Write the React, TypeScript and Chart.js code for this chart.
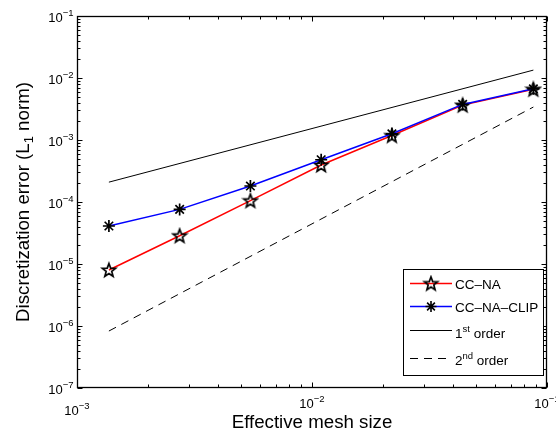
import { useEffect, useRef } from "react";
import { Chart, registerables } from "chart.js";

Chart.register(...registerables);

// ---- data ----
const meshSize = [0.001367, 0.002734, 0.005469, 0.01094, 0.02188, 0.04375, 0.0875];
const errCCNA = [8.0e-6, 2.86e-5, 1.05e-4, 3.95e-4, 1.18e-3, 3.65e-3, 6.6e-3];
const errCCNACLIP = [4.1e-5, 7.6e-5, 1.81e-4, 4.8e-4, 1.26e-3, 3.75e-3, 6.7e-3];
const firstOrderX = [0.001367, 0.0875];
const firstOrderY = [2.09e-4, 1.34e-2];
const secondOrderX = [0.001367, 0.0875];
const secondOrderY = [8.3e-7, 3.4e-3];

const xMajorExps = [-3, -2, -1];
const yMajorExps = [-7, -6, -5, -4, -3, -2, -1];

const seriesNames = ["CC\u2013NA", "CC\u2013NA\u2013CLIP"];

const FONT = '"Liberation Sans", Arial, Helvetica, sans-serif';

let pentagramImg: HTMLCanvasElement | null = null;

function makePentagram(size: number, r: number, color: string, lw: number) {
  const c = document.createElement("canvas");
  c.width = size;
  c.height = size;
  const ctx = c.getContext("2d")!;
  const cx = size / 2;
  const cy = size / 2 + 0.5;
  ctx.beginPath();
  for (let i = 0; i < 10; i++) {
    const a = -Math.PI / 2 + (i * Math.PI) / 5;
    const rad = i % 2 === 0 ? r : r * 0.42;
    const px = cx + rad * Math.cos(a);
    const py = cy + rad * Math.sin(a);
    if (i === 0) ctx.moveTo(px, py);
    else ctx.lineTo(px, py);
  }
  ctx.closePath();
  ctx.strokeStyle = color;
  ctx.lineWidth = lw;
  ctx.lineJoin = "miter";
  ctx.stroke();
  return c;
}

function drawAsterisk(ctx: CanvasRenderingContext2D, x: number, y: number, r: number) {
  ctx.beginPath();
  ctx.moveTo(x - r, y);
  ctx.lineTo(x + r, y);
  ctx.moveTo(x, y - r);
  ctx.lineTo(x, y + r);
  const d = r * Math.SQRT1_2;
  ctx.moveTo(x - d, y - d);
  ctx.lineTo(x + d, y + d);
  ctx.moveTo(x - d, y + d);
  ctx.lineTo(x + d, y - d);
  ctx.stroke();
}

function drawPow(
  ctx: CanvasRenderingContext2D,
  exp: number,
  x: number,
  baseY: number,
  align: "center" | "right"
) {
  const base = "10";
  const sup = (exp < 0 ? "\u2212" : "") + Math.abs(exp);
  ctx.font = `13px ${FONT}`;
  const w1 = ctx.measureText(base).width;
  ctx.font = `9.5px ${FONT}`;
  const w2 = ctx.measureText(sup).width;
  const total = w1 + w2;
  const start = align === "center" ? x - total / 2 : x - total;
  ctx.textAlign = "left";
  ctx.textBaseline = "alphabetic";
  ctx.font = `13px ${FONT}`;
  ctx.fillText(base, start, baseY);
  ctx.font = `9.5px ${FONT}`;
  ctx.fillText(sup, start + w1, baseY - 6.3);
}

const decorPlugin = {
  id: "decor",
  afterDraw(chart: any) {
    const ctx: CanvasRenderingContext2D = chart.ctx;
    const { left, right, top, bottom } = chart.chartArea;
    const xs = chart.scales.x;
    const ys = chart.scales.y;
    ctx.save();
    ctx.strokeStyle = "#000";
    ctx.fillStyle = "#000";
    ctx.lineWidth = 1;
    ctx.setLineDash([]);

    const L = Math.round(left) + 0.5;
    const R = Math.round(right) - 0.5;
    const T = Math.round(top) + 0.5;
    const B = Math.round(bottom) - 0.5;

    // ticks
    ctx.beginPath();
    for (let e = -3; e <= -1; e++) {
      for (let k = 1; k <= 9; k++) {
        if (e === -1 && k > 1) break;
        const v = k * Math.pow(10, e);
        const px = Math.round(xs.getPixelForValue(v)) + 0.5;
        const len = k === 1 ? 5 : 3;
        ctx.moveTo(px, B);
        ctx.lineTo(px, B - len);
        ctx.moveTo(px, T);
        ctx.lineTo(px, T + len);
      }
    }
    for (let e = -7; e <= -1; e++) {
      for (let k = 1; k <= 9; k++) {
        if (e === -1 && k > 1) break;
        const v = k * Math.pow(10, e);
        const py = Math.round(ys.getPixelForValue(v)) + 0.5;
        const len = k === 1 ? 5 : 3;
        ctx.moveTo(L, py);
        ctx.lineTo(L + len, py);
        ctx.moveTo(R, py);
        ctx.lineTo(R - len, py);
      }
    }
    ctx.stroke();

    // frame
    ctx.lineWidth = 1.3;
    ctx.strokeRect(L, T, R - L, B - T);

    // tick labels (first x label is shifted down as in the reference)
    xMajorExps.forEach((e, i) => {
      const px = xs.getPixelForValue(Math.pow(10, e));
      drawPow(ctx, e, px, bottom + (i === 0 ? 27 : 20), "center");
    });
    yMajorExps.forEach((e) => {
      const py = ys.getPixelForValue(Math.pow(10, e));
      drawPow(ctx, e, left - 3.5, py + 6.3, "right");
    });

    // x title
    ctx.font = `18.7px ${FONT}`;
    ctx.textAlign = "center";
    ctx.textBaseline = "alphabetic";
    ctx.fillText("Effective mesh size", (left + right) / 2, 428);

    // y title with subscript
    ctx.save();
    ctx.translate(28.5, 202);
    ctx.rotate(-Math.PI / 2);
    const p1 = "Discretization error (L";
    const p2 = "1";
    const p3 = " norm)";
    ctx.font = `18.7px ${FONT}`;
    const w1 = ctx.measureText(p1).width;
    const w3 = ctx.measureText(p3).width;
    ctx.font = `13px ${FONT}`;
    const w2 = ctx.measureText(p2).width;
    let sx = -(w1 + w2 + w3) / 2;
    ctx.textAlign = "left";
    ctx.font = `18.7px ${FONT}`;
    ctx.fillText(p1, sx, 0);
    sx += w1;
    ctx.font = `13px ${FONT}`;
    ctx.fillText(p2, sx, 4);
    sx += w2;
    ctx.font = `18.7px ${FONT}`;
    ctx.fillText(p3, sx, 0);
    ctx.restore();

    // legend
    const lx = 403.5, ly = 269.5, lw = 140, lh = 106;
    ctx.fillStyle = "#fff";
    ctx.fillRect(lx, ly, lw, lh);
    ctx.strokeStyle = "#000";
    ctx.lineWidth = 1;
    ctx.strokeRect(lx, ly, lw, lh);

    const x0 = 410, x1 = 452, mx = 431, tx = 455;
    const rows = [283.5, 306.5, 330.5, 358.5];
    const textFont = `13.5px ${FONT}`;
    const supFont = `9.5px ${FONT}`;

    // row 1
    ctx.lineWidth = 1.5;
    ctx.strokeStyle = "#ff0000";
    ctx.beginPath();
    ctx.moveTo(x0, rows[0]);
    ctx.lineTo(x1, rows[0]);
    ctx.stroke();
    if (pentagramImg) {
      ctx.drawImage(pentagramImg, mx - pentagramImg.width / 2, rows[0] - pentagramImg.height / 2);
    }
    // row 2
    ctx.strokeStyle = "#0000ff";
    ctx.beginPath();
    ctx.moveTo(x0, rows[1]);
    ctx.lineTo(x1, rows[1]);
    ctx.stroke();
    ctx.strokeStyle = "#000";
    ctx.lineWidth = 1.6;
    drawAsterisk(ctx, mx, rows[1], 5.5);
    // row 3
    ctx.lineWidth = 1;
    ctx.beginPath();
    ctx.moveTo(x0, rows[2]);
    ctx.lineTo(x1, rows[2]);
    ctx.stroke();
    // row 4
    ctx.setLineDash([8, 6]);
    ctx.beginPath();
    ctx.moveTo(x0, rows[3]);
    ctx.lineTo(x1, rows[3]);
    ctx.stroke();
    ctx.setLineDash([]);

    ctx.fillStyle = "#000";
    ctx.textAlign = "left";
    ctx.textBaseline = "alphabetic";
    ctx.font = textFont;
    ctx.fillText(seriesNames[0], tx, rows[0] + 5);
    ctx.fillText(seriesNames[1], tx, rows[1] + 5);

    const drawOrd = (n: string, sup: string, y: number) => {
      ctx.font = textFont;
      ctx.fillText(n, tx, y);
      const wn = ctx.measureText(n).width;
      ctx.font = supFont;
      ctx.fillText(sup, tx + wn, y - 6);
      const ws = ctx.measureText(sup).width;
      ctx.font = textFont;
      ctx.fillText(" order", tx + wn + ws, y);
    };
    drawOrd("1", "st", rows[2] + 7);
    drawOrd("2", "nd", rows[3] + 6);

    ctx.restore();
  },
};

function toPts(xs: number[], ys: number[]) {
  return xs.map((x, i) => ({ x, y: ys[i] }));
}

export default function App() {
  const ref = useRef<HTMLCanvasElement | null>(null);

  useEffect(() => {
    if (!ref.current) return;
    const pent = makePentagram(18, 7, "#000", 1.7);
    pentagramImg = pent;
    const chart = new Chart(ref.current, {
      type: "line",
      data: {
        datasets: [
          {
            label: seriesNames[0],
            data: toPts(meshSize, errCCNA),
            borderColor: "#ff0000",
            borderWidth: 1.5,
            pointStyle: pent as any,
            pointRadius: 7,
            order: 2,
          },
          {
            label: seriesNames[1],
            data: toPts(meshSize, errCCNACLIP),
            borderColor: "#0000ff",
            borderWidth: 1.5,
            pointStyle: "star",
            pointRadius: 6,
            pointBorderColor: "#000",
            pointBorderWidth: 1.7,
            order: 1,
          },
          {
            label: "1st order",
            data: toPts(firstOrderX, firstOrderY),
            borderColor: "#000",
            borderWidth: 1,
            pointRadius: 0,
            order: 3,
          },
          {
            label: "2nd order",
            data: toPts(secondOrderX, secondOrderY),
            borderColor: "#000",
            borderWidth: 1,
            borderDash: [8, 6],
            pointRadius: 0,
            order: 4,
          },
        ],
      },
      options: {
        animation: false,
        responsive: false,
        events: [],
        layout: { padding: { left: 77, top: 16, right: 9, bottom: 44 } },
        plugins: {
          legend: { display: false },
          tooltip: { enabled: false },
        },
        scales: {
          x: { type: "logarithmic", min: 1e-3, max: 1e-1, display: false },
          y: { type: "logarithmic", min: 1e-7, max: 1e-1, display: false },
        },
      },
      plugins: [decorPlugin],
    });
    return () => chart.destroy();
  }, []);

  return (
    <div style={{ position: "fixed", left: 0, top: 0, width: 556, height: 432, background: "#fff" }}>
      <canvas ref={ref} width={556} height={432} style={{ display: "block" }} />
    </div>
  );
}
